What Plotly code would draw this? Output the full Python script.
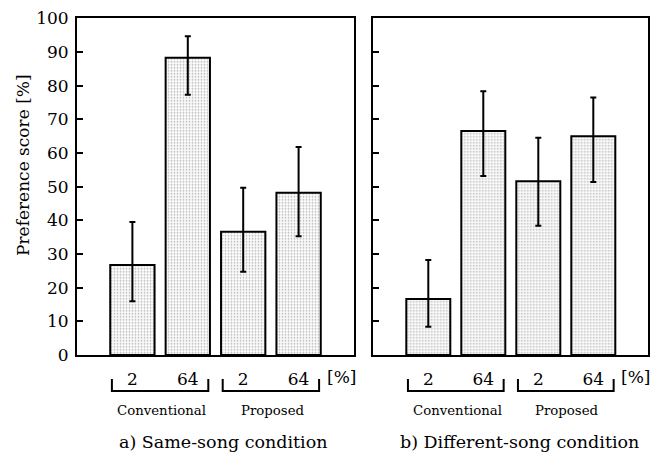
import plotly.graph_objects as go

# ---- data ----
positions = [1, 2, 3, 4]
tick_labels = ["2", "64", "2", "64"]
groups = ["Conventional", "Proposed"]
group_centers = [1.5, 3.5]
group_spans = [(1, 2), (3, 4)]

same_song = [26.7, 88.3, 36.6, 48.2]
same_err_plus = [12.8, 6.4, 13.1, 13.6]
same_err_minus = [10.7, 11.0, 11.9, 12.9]

diff_song = [16.6, 66.5, 51.6, 65.0]
diff_err_plus = [11.6, 11.8, 12.9, 11.5]
diff_err_minus = [8.2, 13.3, 13.2, 13.6]

captions = ["a) Same-song condition", "b) Different-song condition"]
y_title = "Preference score [%]"
y_ticks = list(range(0, 101, 10))

FONT = "DejaVu Serif, Liberation Serif, serif"
W, H = 666, 455
OFF = 8  # page body margin


def px(xp):
    return (xp - OFF) / W


def py(yp):
    return 1 - (yp - OFF) / H


fig = go.Figure()

panels = [
    (same_song, same_err_plus, same_err_minus, "x", "y"),
    (diff_song, diff_err_plus, diff_err_minus, "x2", "y2"),
]
for vals, ep, em, xa, ya in panels:
    fig.add_trace(go.Bar(
        x=positions, y=vals, width=0.8,
        xaxis=xa, yaxis=ya,
        marker=dict(
            color="#f4f4f4",
            line=dict(color="black", width=2),
            pattern=dict(shape=".", size=3, solidity=0.25,
                         fgcolor="#b0b0b0", bgcolor="#fbfbfb", fillmode="replace"),
        ),
        error_y=dict(type="data", symmetric=False, array=ep, arrayminus=em,
                     color="black", thickness=2, width=3),
        showlegend=False,
    ))

axis_common = dict(showline=True, linecolor="black", linewidth=2, mirror=True,
                   showgrid=False, zeroline=False, automargin=False)

x_dom = [(px(77), px(354)), (px(373.3), px(648.3))]
y_dom = (py(355), py(18.3))

for i, (xa, ya) in enumerate([("xaxis", "yaxis"), ("xaxis2", "yaxis2")]):
    fig.update_layout(**{
        xa: dict(axis_common, domain=x_dom[i], range=[0, 5], anchor="y" if i == 0 else "y2",
                 tickmode="array", tickvals=positions, ticktext=tick_labels,
                 ticks="", ticklabelstandoff=8,
                 tickfont=dict(family=FONT, size=17, color="black")),
        ya: dict(axis_common, domain=y_dom, range=[0, 100], anchor="x" if i == 0 else "x2",
                 tickmode="array", tickvals=y_ticks, ticks="inside", ticklen=6,
                 tickwidth=1.5, tickcolor="black",
                 showticklabels=(i == 0), ticklabelstandoff=3,
                 tickfont=dict(family=FONT, size=17, color="black")),
    })

annotations = []
shapes = []
bracket_top = py(379)
bracket_bot = py(391)
centered = dict(xanchor="center", yanchor="middle", showarrow=False)
for i, xr in enumerate(["x", "x2"]):
    annotations.append(dict(centered, x=4.77, y=py(377), xref=xr, yref="paper", text="[%]",
                            font=dict(family=FONT, size=17, color="black")))
    for (a, b), c, g in zip(group_spans, group_centers, groups):
        x0, x1 = a - 0.37, b + 0.37
        shapes.append(dict(type="path", xref=xr, yref="paper",
                           path=f"M {x0},{bracket_top} L {x0},{bracket_bot} L {x1},{bracket_bot} L {x1},{bracket_top}",
                           line=dict(color="black", width=2)))
        annotations.append(dict(centered, x=c + 0.03, y=py(410), xref=xr, yref="paper", text=g,
                                font=dict(family=FONT, size=13.3, color="black")))
    annotations.append(dict(centered, x=2.65, y=py(442), xref=xr, yref="paper", text=captions[i],
                            font=dict(family=FONT, size=17.5, color="black")))

annotations.append(dict(centered, x=px(23), y=py(165), xref="paper", yref="paper", text=y_title,
                        textangle=-90, font=dict(family=FONT, size=17, color="black")))

fig.update_layout(width=W, height=H, margin=dict(l=0, r=0, t=0, b=0),
                  paper_bgcolor="white", plot_bgcolor="white",
                  annotations=annotations, shapes=shapes, bargap=0.2)

fig.write_html("out.html")
